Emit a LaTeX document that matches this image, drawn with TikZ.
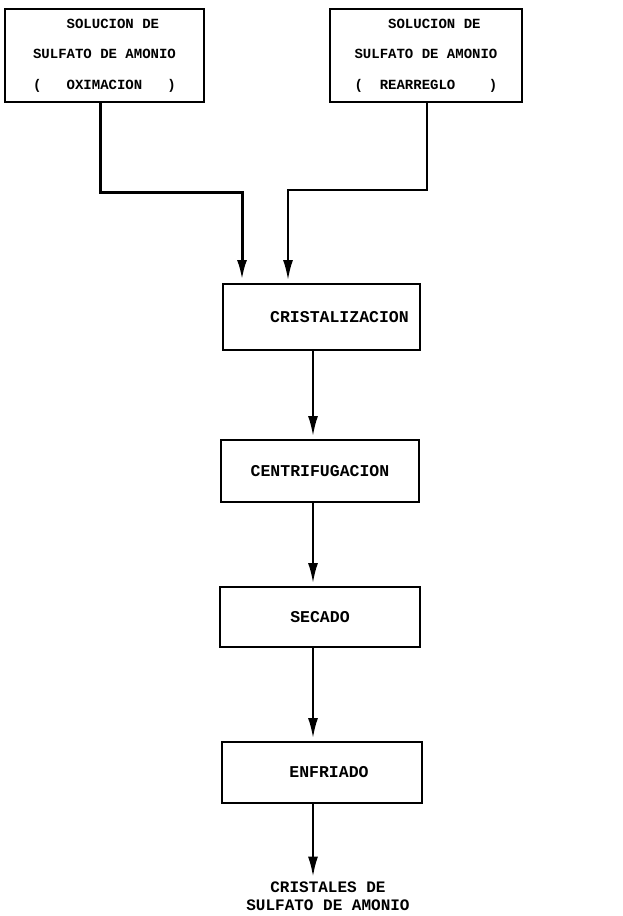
\documentclass[tikz,border=0pt]{standalone}
\usepackage{fontspec}
\setmonofont{Liberation Mono}
\usetikzlibrary{arrows.meta}

\begin{document}
\begin{tikzpicture}[x=1pt,y=-1pt,line width=2pt,
  box/.style={draw,rectangle,minimum width=198pt,minimum height=62pt,inner sep=0pt,
    font=\fontsize{16.5}{18}\selectfont\ttfamily\bfseries},
  feed/.style={draw,rectangle,minimum height=93pt,inner sep=0pt,align=center,
    font=\fontsize{14}{30.5}\selectfont\ttfamily\bfseries},
  flow/.style={-{Latex[length=20pt,width=10pt]},shorten >=3pt}]
\useasboundingbox (0,0) rectangle (623,916);
\node[feed,minimum width=199pt] (ox) at (104.5,55.5)
  {\hphantom{XX}SOLUCION DE\\SULFATO DE AMONIO\\(\ \ \ OXIMACION\ \ \ )};
\node[feed,minimum width=192pt] (re) at (426,55.5)
  {\hphantom{XX}SOLUCION DE\\SULFATO DE AMONIO\\(\ \ REARREGLO\ \ \ \ )};
\node[box,minimum width=197pt,minimum height=66pt] (cris) at (321.5,317) {\hspace*{36pt}CRISTALIZACION};
\node[box] (cent) at (320,471) {CENTRIFUGACION};
\node[box,minimum width=200pt,minimum height=60pt] (sec) at (320,617) {SECADO};
\node[box,minimum width=200pt,minimum height=61pt] (enf) at (322,772.5) {\hspace*{14pt}ENFRIADO};
\node[align=center,inner sep=1pt,font=\fontsize{16}{18}\selectfont\ttfamily\bfseries] (prod) at (328,896)
  {CRISTALES DE\\SULFATO DE AMONIO};
\coordinate (axis) at (313,0);
\coordinate (jl) at (242,192);
\coordinate (jr) at (288,190);
\draw[flow,line width=3pt] ([xshift=-4.5pt]ox.south) |- (jl) -- (cris.north -| jl);
\draw[flow] ([xshift=1pt]re.south) |- (jr) -- (cris.north -| jr);
\draw[flow] (cris.south -| axis) -- (cent.north -| axis);
\draw[flow] (cent.south -| axis) -- (sec.north -| axis);
\draw[flow] (sec.south -| axis) -- (enf.north -| axis);
\draw[flow] (enf.south -| axis) -- (prod.north -| axis);
\end{tikzpicture}
\end{document}
